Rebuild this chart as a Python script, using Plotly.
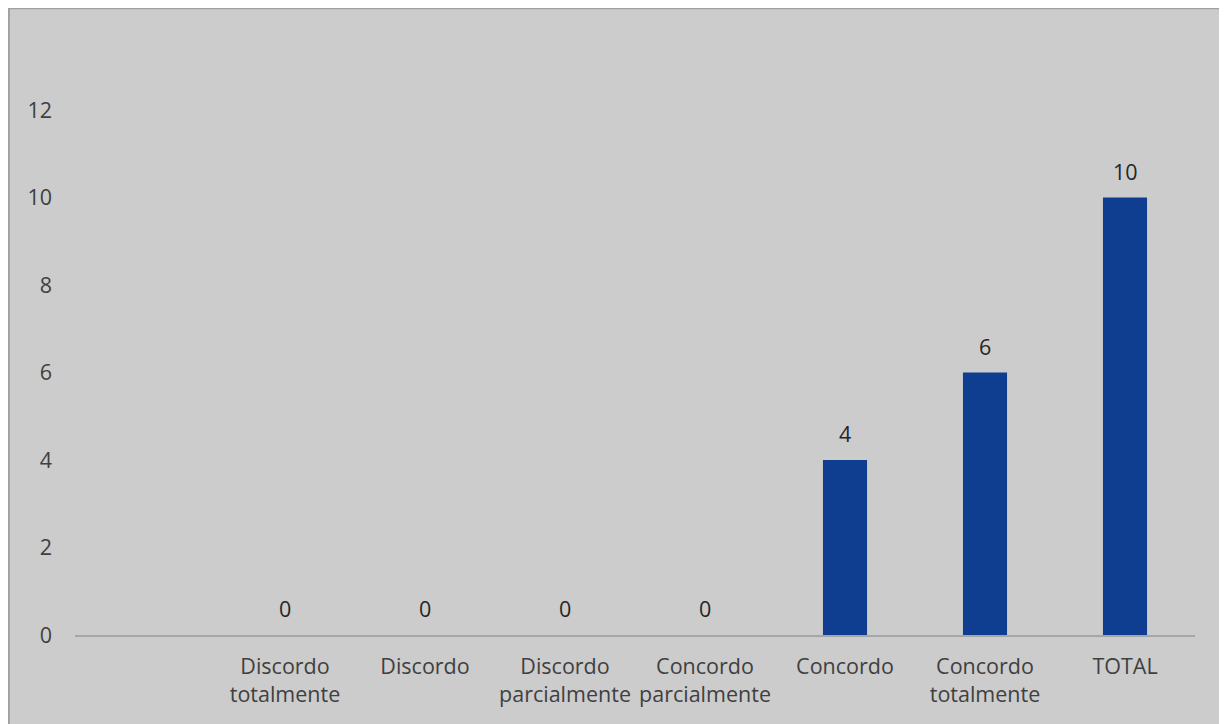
import plotly.graph_objects as go

categories = [" ", "Discordo<br>totalmente", "Discordo", "Discordo<br>parcialmente",
              "Concordo<br>parcialmente", "Concordo", "Concordo<br>totalmente", "TOTAL"]
values = [None, 0, 0, 0, 0, 4, 6, 10]
labels = ["", "0", "0", "0", "0", "4", "6", "10"]
y_ticks = [0, 2, 4, 6, 8, 10, 12]

FONT = "Open Sans"
FS = 21.5
fig = go.Figure()
fig.add_trace(go.Bar(
    x=categories, y=values,
    marker=dict(color="#0f3d8f", line=dict(width=0)),
    width=0.315, hoverinfo="skip",
))
for c, v, t in zip(categories, values, labels):
    if t:
        fig.add_annotation(x=c, y=v, text=t, showarrow=False, yanchor="bottom",
                           yshift=10, font=dict(family=FONT, size=FS, color="#262626"))
fig.update_layout(
    width=1219, height=716,
    margin=dict(l=67, r=32, t=102, b=89),
    paper_bgcolor="#cccccc", plot_bgcolor="#cccccc",
    showlegend=False,
    font=dict(family=FONT, size=FS, color="#404040"),
    shapes=[dict(type="rect", xref="paper", yref="paper",
                 x0=-0.0595, x1=1.0304, y0=-0.3, y1=1.195,
                 fillcolor="rgba(0,0,0,0)", line=dict(color="#a0a0a0", width=3),
                 layer="below")],
)
fig.update_xaxes(type="category", showgrid=False, showline=True, linecolor="#a6a6a6",
                 linewidth=2, ticks="", ticklabelstandoff=11,
                 tickfont=dict(size=FS, color="#404040"), zeroline=False)
fig.update_yaxes(range=[0, 12], tickvals=y_ticks, showgrid=False, zeroline=False,
                 showline=False, ticks="", ticklabelstandoff=22,
                 tickfont=dict(size=FS, color="#404040"))
fig.write_html("out.html")
